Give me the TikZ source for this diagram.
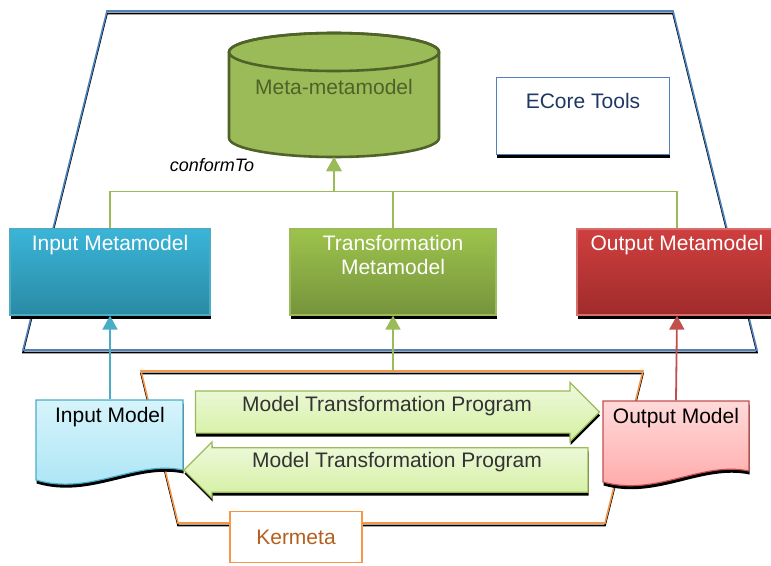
\documentclass[tikz,border=0pt]{standalone}
\usepackage{fontspec}
\setmainfont{Liberation Sans}
\usetikzlibrary{positioning}
\usetikzlibrary{shapes.arrows}
\usetikzlibrary{shadows}
\usetikzlibrary{arrows.meta}

\definecolor{ecoreblue}{RGB}{79,129,189}
\definecolor{ecoretext}{RGB}{31,56,100}
\definecolor{olivegreen}{RGB}{155,187,89}
\definecolor{darkolive}{RGB}{79,98,40}
\definecolor{aqua}{RGB}{75,172,198}
\definecolor{brick}{RGB}{192,80,77}
\definecolor{kerorange}{RGB}{247,150,70}
\definecolor{kertext}{RGB}{180,95,30}

\begin{document}
\begin{tikzpicture}[x=1pt, y=-1pt,
    every node/.style={font=\fontsize{21pt}{24pt}\selectfont, inner sep=0pt},
    blackshadow/.style={drop shadow={shadow xshift=0.6pt, shadow yshift=-3.5pt, fill=black, opacity=1}},
    metabox/.style={minimum width=200pt, minimum height=86pt, line width=1.2pt, blackshadow},
    toplabel/.style={anchor=north, yshift=-6.5pt, text=white, align=center},
    bigarrow/.style={single arrow, minimum height=404pt, draw=olivegreen, line width=1.2pt,
        top color={rgb,255:red,238;green,249;blue,221}, bottom color={rgb,255:red,212;green,240;blue,160},
        blackshadow, text=black!80},
    conn/.style={line width=1.8pt, -{Triangle[width=15pt,length=14pt]}}
  ]
  \useasboundingbox (0,0) rectangle (771,565);

  % Frames
  \draw[black, line width=1.6pt, yshift=-2.5pt] (107,11) -- (673,11) -- (757,350) -- (23,350) -- cycle;
  \draw[ecoreblue, line width=1.6pt] (107,11) -- (673,11) -- (757,350) -- (23,350) -- cycle;
  \draw[black, line width=1.6pt, yshift=-2.5pt] (141,371) -- (643,371) -- (605,523) -- (178,523) -- cycle;
  \draw[kerorange, line width=1.6pt] (141,371) -- (643,371) -- (605,523) -- (178,523) -- cycle;

  % Cylinder
  \path[fill=olivegreen, draw=darkolive, line width=2.6pt] (229,52) -- (229,138)
    arc[start angle=180, end angle=360, x radius=105pt, y radius=19pt] -- (439,52)
    arc[start angle=0, end angle=180, x radius=105pt, y radius=19pt] -- cycle;
  \draw[darkolive, line width=2.6pt] (334,52) ellipse[x radius=105pt, y radius=19pt];

  % Documents
  \path[blackshadow, draw=aqua, line width=1.2pt,
    top color={rgb,255:red,215;green,244;blue,251}, bottom color={rgb,255:red,167;green,228;blue,245}]
    (36,400) -- (183,400) -- (183,470) .. controls (135,460) and (90,496) .. (36,480) -- cycle;
  \path[blackshadow, draw=brick, line width=1.2pt,
    top color={rgb,255:red,255;green,218;blue,218}, bottom color={rgb,255:red,255;green,165;blue,165}]
    (603,401) -- (749,401) -- (749,471) .. controls (701,461) and (656,497) .. (603,482) -- cycle;

  % Nodes
  \node at (334,95) (meta) [minimum width=210pt, minimum height=124pt] {};
  \node at (334,87) (metatext) [text=darkolive] {Meta-metamodel};
  \node at (212,165) (conform) [font=\fontsize{18pt}{20pt}\selectfont\itshape] {conformTo};
  \node at (583,116) (ecore) [minimum width=173pt, minimum height=77pt, draw=ecoreblue, line width=1.4pt,
    fill=white, blackshadow, label={[toplabel, text=ecoretext, yshift=-9.5pt]north:ECore Tools}] {};

  \node at (110,272) (inmm) [metabox, draw=aqua,
    top color={rgb,255:red,58;green,181;blue,216}, bottom color={rgb,255:red,42;green,138;blue,164},
    label={[toplabel]north:Input Metamodel}] {};
  \node at (393,272) (trmm) [metabox, minimum width=206pt, draw=olivegreen,
    top color={rgb,255:red,157;green,195;blue,76}, bottom color={rgb,255:red,118;green,147;blue,60},
    label={[toplabel]north:{Transformation\\Metamodel}}] {};
  \node at (677,272) (outmm) [metabox, draw={rgb,255:red,214;green,110;blue,108},
    top color={rgb,255:red,207;green,63;blue,63}, bottom color={rgb,255:red,160;green,43;blue,43},
    label={[toplabel]north:Output Metamodel}] {};

  \node at (110,442) (inmod) [minimum width=147pt, minimum height=85pt,
    label={[toplabel, text=black, yshift=-1pt]north:Input Model}] {};
  \node at (676,442) (outmod) [minimum width=146pt, minimum height=83pt,
    label={[toplabel, text=black, yshift=-1pt]north:Output Model}] {};

  \node at (387,412) (fwd) [bigarrow, minimum width=59pt, single arrow head extend=7pt,
    text height=16pt, text depth=18pt] {Model Transformation Program};
  \node at (397,470) (bwd) [bigarrow, minimum width=56pt, single arrow head extend=5pt,
    shape border rotate=180, text height=16pt, text depth=21pt] {Model Transformation Program};

  \node at (296,537) (kermeta) [minimum width=132pt, minimum height=51pt, draw=kerorange,
    line width=1.4pt, fill=white, text=kertext] {Kermeta};
  \coordinate (kertop) at (393,371);

  % Arrows
  \draw[conn, olivegreen] (inmm.north) -- ++(0,-37) -| (meta.south);
  \draw[conn, olivegreen] (trmm.north) -- ++(0,-37) -| (meta.south);
  \draw[conn, olivegreen] (outmm.north) -- ++(0,-37) -| (meta.south);
  \draw[conn, aqua] (inmod.north) -- (inmm.south);
  \draw[conn, olivegreen] (kertop) -- (trmm.south);
  \draw[conn, brick] (outmod.north) -- (outmm.south);

\end{tikzpicture}
\end{document}
